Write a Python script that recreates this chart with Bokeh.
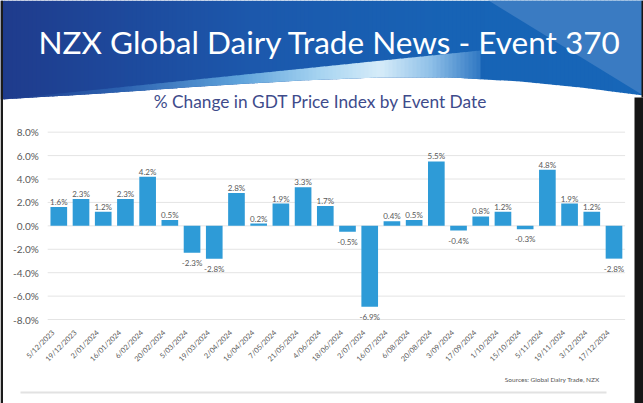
from math import pi
from bokeh.plotting import figure
from bokeh.models import Range1d, FixedTicker, ColumnDataSource
from bokeh.core.properties import value
from bokeh.embed import file_html
from bokeh.resources import INLINE

# ---------------- data ----------------
event_dates = ["5/12/2023", "19/12/2023", "2/01/2024", "16/01/2024", "6/02/2024",
               "20/02/2024", "5/03/2024", "19/03/2024", "2/04/2024", "16/04/2024",
               "7/05/2024", "21/05/2024", "4/06/2024", "18/06/2024", "2/07/2024",
               "16/07/2024", "6/08/2024", "20/08/2024", "3/09/2024", "17/09/2024",
               "1/10/2024", "15/10/2024", "5/11/2024", "19/11/2024", "3/12/2024",
               "17/12/2024"]
pct_change = [1.6, 2.3, 1.2, 2.3, 4.2, 0.5, -2.3, -2.8, 2.8, 0.2, 1.9, 3.3, 1.7, -0.5,
              -6.9, 0.4, 0.5, 5.5, -0.4, 0.8, 1.2, -0.3, 4.8, 1.9, 1.2, -2.8]
y_ticks = [-8, -6, -4, -2, 0, 2, 4, 6, 8]
y_tick_labels = ["-8.0%", "-6.0%", "-4.0%", "-2.0%", "0.0%", "2.0%", "4.0%", "6.0%", "8.0%"]
banner_title = "NZX Global Dairy Trade News - Event 370"
chart_title = "% Change in GDT Price Index by Event Date"
source_note = "Sources: Global Dairy Trade, NZX"

FONT = "Lato"
W, H = 643, 403
# page geometry (page pixels; the figure is drawn at the page origin)
PAGE_L, PAGE_T = 0, 0
BAND_L, BAND_R = 47.2, 624.6          # left / right edge of category bands
Y0_PAGE, PX_PER_PCT = 225.35, 11.71   # page y of 0 %, pixels per 1 %
LABEL_SHIFT = 0.25                    # rotated date labels sit slightly left of bar centre

n = len(event_dates)
band = (BAND_R - BAND_L) / n
c0 = BAND_L + band / 2
x_start = (PAGE_L - c0) / band
x_end = (PAGE_L + W - c0) / band
y_end = (Y0_PAGE - PAGE_T) / PX_PER_PCT
y_start = (Y0_PAGE - (PAGE_T + H)) / PX_PER_PCT

p = figure(width=W, height=H, x_range=Range1d(x_start, x_end),
           y_range=Range1d(y_start, y_end), min_border=0, toolbar_location=None,
           output_backend="svg", outline_line_color=None)
p.extra_x_ranges = {"px": Range1d(PAGE_L, PAGE_L + W)}
p.extra_y_ranges = {"py": Range1d(PAGE_T + H, PAGE_T)}
p.xgrid.visible = False
p.ygrid.visible = False
PX = dict(x_range_name="px", y_range_name="py")


def hex2rgb(h):
    h = h.lstrip("#")
    return tuple(int(h[i:i + 2], 16) for i in (0, 2, 4))


def ramp(stops, x):
    if x <= stops[0][0]:
        return stops[0][1]
    for (x0, col0), (x1, col1) in zip(stops[:-1], stops[1:]):
        if x0 <= x <= x1:
            t = (x - x0) / (x1 - x0)
            a, b = hex2rgb(col0), hex2rgb(col1)
            return "#%02x%02x%02x" % tuple(int(round(a[i] + (b[i] - a[i]) * t)) for i in range(3))
    return stops[-1][1]


def interp(pts, x):
    for (x0, y0), (x1, y1) in zip(pts[:-1], pts[1:]):
        if x0 <= x <= x1:
            return y0 + (y1 - y0) * (x - x0) / (x1 - x0)
    return pts[-1][1]


# ---------------- banner (decorative, page coordinates) ----------------
edge = [(0, 99), (100, 93), (200, 86), (300, 80), (380, 77), (450, 77), (520, 81),
        (580, 87), (643, 95)]
base_stops = [(0, "#1f3b8c"), (250, "#1c58ac"), (450, "#1763b5"), (643, "#1766b8")]
step = 4
xs_, ys_, cs_ = [], [], []
x = 0
while x < 643:
    x1 = min(x + step + 0.6, 643)
    xs_.append([x, x1, x1, x])
    ys_.append([0, 0, interp(edge, x1), interp(edge, x)])
    cs_.append(ramp(base_stops, x + step / 2))
    x += step
p.patches(xs_, ys_, fill_color=cs_, line_color=None, **PX)

sweep_stops = [(0, "#1f3b8c"), (120, "#2c62b0"), (240, "#5fa3db"), (320, "#a7d4f1"),
               (380, "#d6ecf9"), (430, "#8fc0e8"), (480, "#2f77c3")]


def diag(xv):
    return 99 - 49.0 / 480.0 * xv


xs_, ys_, cs_ = [], [], []
x = 0
while x < 480:
    x1 = min(x + step + 0.6, 480)
    xs_.append([x, x1, x1, x])
    ys_.append([diag(x), diag(x1), interp(edge, x1), interp(edge, x)])
    cs_.append(ramp(sweep_stops, x + step / 2))
    x += step
p.patches(xs_, ys_, fill_color=cs_, line_color=None, **PX)

p.patch([488, 643, 643], [0, 0, 95], fill_color="#3a7bc2", line_color=None, **PX)

# dark window edges of the screenshot
p.quad(left=[0], right=[2.5], top=[0], bottom=[403], fill_color="#1b1b1b", line_color=None, **PX)
p.quad(left=[634], right=[643], top=[97], bottom=[403], fill_color="#161616", line_color=None, **PX)
p.quad(left=[641], right=[643], top=[0], bottom=[97], fill_color="#161616", line_color=None, **PX)

p.text(x=[38], y=[41], text=[banner_title], text_color="white",
       text_font=value(FONT), text_font_size="31.5px", text_align="left",
       text_baseline="alphabetic", **PX)
p.text(x=[320], y=[101], text=[chart_title], text_color="#3e4b8b",
       text_font=value(FONT), text_font_size="17.3px", text_align="center",
       text_baseline="middle", **PX)

# footer
p.text(x=[599], y=[379], text=[source_note], text_color="#555555",
       text_font=value(FONT), text_font_size="6.5px", text_align="right",
       text_baseline="middle", **PX)
p.segment(x0=[20], y0=[392], x1=[606], y1=[392], line_color="#e2e2e2", line_width=2, **PX)

# ---------------- bar chart ----------------
idx = list(range(n))
p.segment(x0=[-0.5] * len(y_ticks), y0=y_ticks, x1=[n - 0.5] * len(y_ticks), y1=y_ticks,
          line_color="#e4e4e4", line_width=1)

src = ColumnDataSource(dict(i=idx, val=pct_change))
p.vbar(x="i", top="val", width=0.75, source=src, fill_color="#2e9bd7", line_color=None)

pos = [(i, v) for i, v in zip(idx, pct_change) if v >= 0]
neg = [(i, v) for i, v in zip(idx, pct_change) if v < 0]
p.text(x=[i for i, v in pos], y=[v for i, v in pos], text=["%.1f%%" % v for i, v in pos],
       text_font=value(FONT), text_font_size="8px", text_color="#595959",
       text_align="center", text_baseline="alphabetic", y_offset=-5)
p.text(x=[i for i, v in neg], y=[v for i, v in neg], text=["%.1f%%" % v for i, v in neg],
       text_font=value(FONT), text_font_size="8px", text_color="#595959",
       text_align="center", text_baseline="top", y_offset=5)

p.yaxis.fixed_location = -0.5
p.yaxis.ticker = FixedTicker(ticks=y_ticks)
p.yaxis.major_label_overrides = {t: l for t, l in zip(y_ticks, y_tick_labels)}
p.yaxis.axis_line_color = None
p.yaxis.major_tick_line_color = None
p.yaxis.minor_tick_line_color = None
p.yaxis.major_tick_in = 0
p.yaxis.major_tick_out = 0
p.yaxis.major_label_standoff = 9
p.yaxis.major_label_text_font = FONT
p.yaxis.major_label_text_font_size = "10px"
p.yaxis.major_label_text_color = "#595959"

x_tick_pos = [i - LABEL_SHIFT for i in idx]
p.xaxis.fixed_location = min(y_ticks)
p.xaxis.ticker = FixedTicker(ticks=x_tick_pos)
p.xaxis.major_label_overrides = {t: d for t, d in zip(x_tick_pos, event_dates)}
p.xaxis.axis_line_color = None
p.xaxis.major_tick_line_color = None
p.xaxis.minor_tick_line_color = None
p.xaxis.major_tick_in = 0
p.xaxis.major_tick_out = 0
p.xaxis.major_label_orientation = pi / 4
p.xaxis.major_label_standoff = 12
p.xaxis.major_label_text_font = FONT
p.xaxis.major_label_text_font_size = "7.3px"
p.xaxis.major_label_text_color = "#595959"

open("out.html", "w").write(file_html(p, INLINE))
